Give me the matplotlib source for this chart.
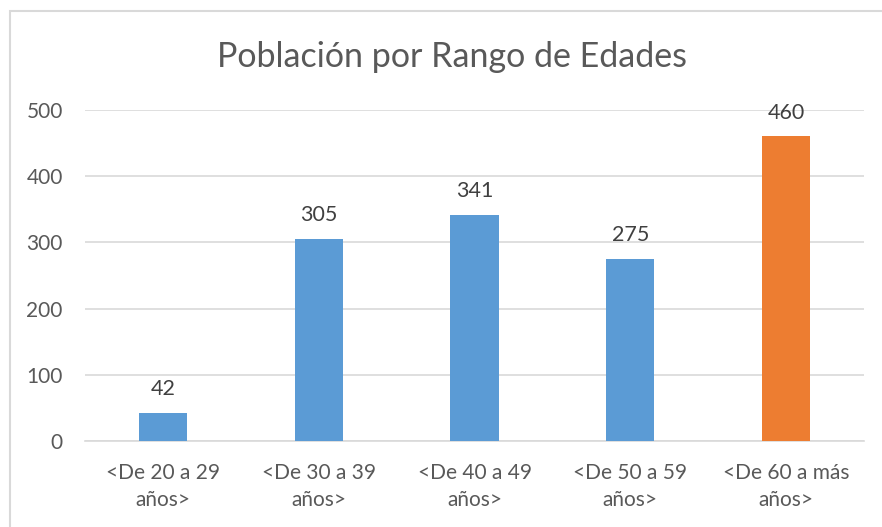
import matplotlib.pyplot as plt
from matplotlib.patches import Rectangle

plt.rc('font', family=['Lato', 'DejaVu Sans'])

# Datos
categorias = ["<De 20 a 29\naños>", "<De 30 a 39\naños>", "<De 40 a 49\naños>",
              "<De 50 a 59\naños>", "<De 60 a más\naños>"]
poblacion = [42, 305, 341, 275, 460]
colores = ["#5B9BD5", "#5B9BD5", "#5B9BD5", "#5B9BD5", "#ED7D31"]
yticks = [0, 100, 200, 300, 400, 500]

W, H = 882, 527
fig = plt.figure(figsize=(W / 100, H / 100), dpi=100)
ax = fig.add_axes([85 / W, 1 - 441 / H, (864 - 85) / W, (441 - 110) / H])

x = range(len(categorias))
bars = ax.bar(x, poblacion, width=0.31, color=colores, zorder=3)

#Etiquetas de datos
for b, v in zip(bars, poblacion):
    ax.annotate(str(v), (b.get_x() + b.get_width() / 2, v), xytext=(0, 10),
                textcoords="offset points", ha="center", va="bottom",
                fontsize=15.5, color="#404040")

ax.set_xlim(-0.5, len(categorias) - 0.5)
ax.set_ylim(0, 500)
ax.set_yticks(yticks)
ax.set_xticks(list(x))
ax.set_xticklabels(categorias, fontsize=15, color="#595959", linespacing=1.45)
ax.tick_params(axis="y", labelsize=15, labelcolor="#595959", length=0, pad=16)
ax.tick_params(axis="x", length=0, pad=16)
ax.grid(axis="y", color="#d9d9d9", linewidth=1.2, zorder=0)
for s in ["top", "right", "left"]:
    ax.spines[s].set_visible(False)
ax.spines["bottom"].set_color("#d9d9d9")
ax.spines["bottom"].set_linewidth(1.2)

fig.text(452 / W, 1 - 57 / H, "Población por Rango de Edades", ha="center",
         va="center", fontsize=24.5, color="#595959")

#Borde del gráfico
fig.patches.append(Rectangle((9.5 / W, -0.1), 1.2, 1.1 - 10.5 / H,
                             transform=fig.transFigure, fill=False,
                             edgecolor="#d9d9d9", linewidth=1.5))

plt.savefig("out.png", dpi=100)
